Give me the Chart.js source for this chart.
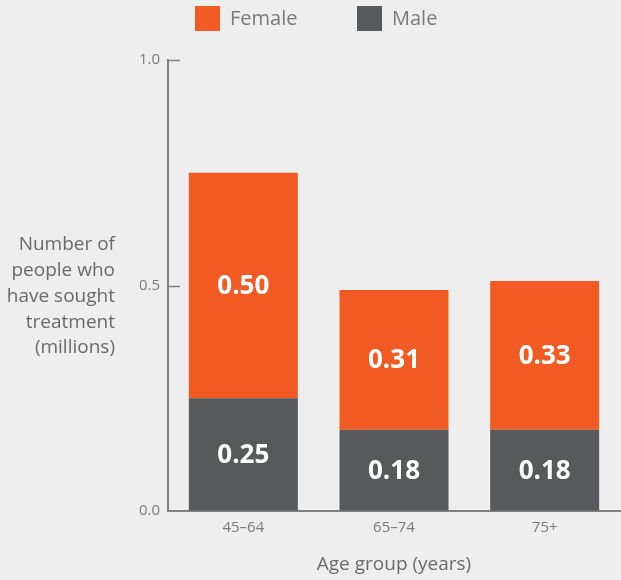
<!DOCTYPE html>
<html>
<head>
<meta charset="utf-8">
<script src="https://cdn.jsdelivr.net/npm/chart.js@4.4.1/dist/chart.umd.min.js"></script>
<style>
  html, body { margin: 0; padding: 0; background: #eeeeee; }
  #wrap { width: 621px; height: 580px; position: relative; }
</style>
</head>
<body>
<div id="wrap"><canvas id="chart"></canvas></div>
<script>
// data
const categories = ["45\u201364", "65\u201374", "75+"];
const maleValues = [0.25, 0.18, 0.18];
const femaleValues = [0.50, 0.31, 0.33];
const yTicks = [0.0, 0.5, 1.0];
const yTitleLines = ["Number of", "people who", "have sought", "treatment", "(millions)"];

const ORANGE = "#f15a22";
const GREY = "#58595b";
const FONT = "'Open Sans', 'DejaVu Sans', sans-serif";

// legend drawn by hand so spacing matches (Female first, then Male)
const legendPlugin = {
    id: "customLegend",
    afterDraw(chart) {
        const ctx = chart.ctx;
        const items = [
            { label: chart.data.datasets[1].label, color: chart.data.datasets[1].backgroundColor, x: 195 },
            { label: chart.data.datasets[0].label, color: chart.data.datasets[0].backgroundColor, x: 357 }
        ];
        ctx.save();
        ctx.font = "20px " + FONT;
        ctx.textBaseline = "middle";
        ctx.textAlign = "left";
        items.forEach((it) => {
            ctx.fillStyle = it.color;
            ctx.fillRect(it.x, 6, 25, 25);
            ctx.fillStyle = "#7a7a7a";
            ctx.fillText(it.label, it.x + 35, 19);
        });
        ctx.restore();
    }
};

// inward tick marks, horizontal y title and the value labels
const extrasPlugin = {
    id: "extras",
    afterDraw(chart) {
        const ctx = chart.ctx;
        const y = chart.scales.y;
        const area = chart.chartArea;
        ctx.save();

        ctx.strokeStyle = "#808080";
        ctx.lineWidth = 1.5;
        yTicks.forEach((v) => {
            if (v === 0) return;
            const py = Math.round(y.getPixelForValue(v)) + 0.5;
            ctx.beginPath();
            ctx.moveTo(area.left, py);
            ctx.lineTo(area.left + 12, py);
            ctx.stroke();
        });

        ctx.font = "19px " + FONT;
        ctx.fillStyle = "#6a6a6a";
        ctx.textAlign = "right";
        ctx.textBaseline = "middle";
        const mid = y.getPixelForValue(0.5) + 11;
        const lh = 25.75;
        yTitleLines.forEach((line, i) => {
            ctx.fillText(line, 115, mid + (i - (yTitleLines.length - 1) / 2) * lh);
        });

        ctx.font = "bold 26px " + FONT;
        ctx.fillStyle = "#ffffff";
        ctx.textAlign = "center";
        chart.data.datasets.forEach((ds, di) => {
            const meta = chart.getDatasetMeta(di);
            meta.data.forEach((bar, i) => {
                const p = bar.getProps(["x", "y", "base"], true);
                ctx.fillText(ds.data[i].toFixed(2), p.x, (p.y + p.base) / 2 + 1);
            });
        });
        ctx.restore();
    }
};

const ctx = document.getElementById("chart").getContext("2d");
new Chart(ctx, {
    type: "bar",
    data: {
        labels: categories,
        datasets: [
            { label: "Male", data: maleValues, backgroundColor: GREY },
            { label: "Female", data: femaleValues, backgroundColor: ORANGE }
        ]
    },
    options: {
        responsive: true,
        maintainAspectRatio: false,
        animation: false,
        layout: { padding: { top: 60, right: 1, left: 0, bottom: 0 } },
        datasets: {
            bar: { barPercentage: 0.7235, categoryPercentage: 1.0, borderWidth: 0 }
        },
        plugins: {
            legend: { display: false },
            tooltip: { enabled: false }
        },
        scales: {
            x: {
                stacked: true,
                offset: true,
                grid: { display: true, drawOnChartArea: false, drawTicks: false },
                border: { display: true, color: "#808080", width: 2 },
                ticks: { color: "#7a7a7a", padding: 8, font: { family: FONT, size: 15 } },
                title: {
                    display: true,
                    text: "Age group (years)",
                    color: "#6a6a6a",
                    font: { family: FONT, size: 19 },
                    padding: { top: 0, bottom: 4 }
                },
                afterFit(scale) { scale.height = 69; }
            },
            y: {
                stacked: true,
                min: 0,
                max: 1,
                grid: { display: true, drawOnChartArea: false, drawTicks: false },
                border: { display: true, color: "#808080", width: 2 },
                ticks: {
                    stepSize: 0.5,
                    padding: 8,
                    color: "#7a7a7a",
                    font: { family: FONT, size: 15 },
                    callback: (v) => Number(v).toFixed(1)
                },
                afterFit(scale) { scale.width = 168; }
            }
        }
    },
    plugins: [legendPlugin, extrasPlugin]
});
</script>
</body>
</html>
